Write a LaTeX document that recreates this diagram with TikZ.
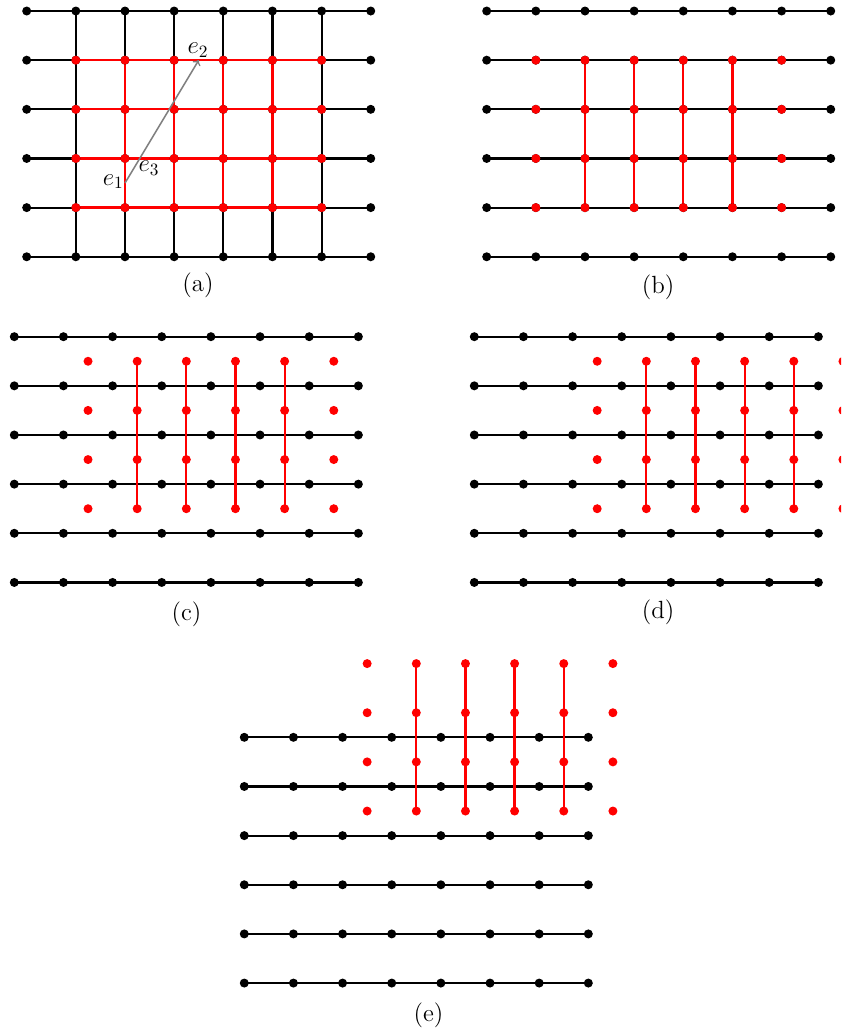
\documentclass[tikz,border=0pt]{standalone}
\pgfdeclarelayer{bg}
\pgfdeclarelayer{mid}
\pgfsetlayers{bg,mid,main}
\tikzset{
  bdot/.style={circle,fill=black,inner sep=0pt,minimum size=0.183cm},
  rdot/.style={circle,fill=red,inner sep=0pt,minimum size=0.183cm},
  bline/.style={line width=1.25pt,black},
  rline/.style={line width=1.3pt,red},
  capt/.style={font=\Large},
  lab/.style={font=\Large,inner sep=0pt},
  vec/.style={line width=0.9pt,gray,->}
}
\newcommand\blackgrid[1]{%
  \foreach \i in {0,...,7}{\foreach \j in {0,...,5}{\node[bdot] (#1-\i-\j) at (\i,-\j) {};}}%
  \begin{pgfonlayer}{bg}%
    \foreach \j in {0,...,5}{\draw[bline] (#1-0-\j.center) -- (#1-7-\j.center);}%
  \end{pgfonlayer}}
\newcommand\redgrid[3]{%
  \foreach \k in {0,...,5}{\foreach \l in {0,...,3}{\node[rdot] (#1-\k-\l) at ({#2+\k},{#3-\l}) {};}}%
  \begin{pgfonlayer}{mid}%
    \foreach \k in {1,...,4}{\draw[rline] (#1-\k-0.center) -- (#1-\k-3.center);}%
  \end{pgfonlayer}}
\begin{document}
\begin{tikzpicture}
\useasboundingbox (0,0) rectangle (17.111,-20.956);
\clip (0,0) rectangle (17.111,-20.956);
% (a)
\begin{scope}[shift={(0.543,-0.224)}]
  \blackgrid{a}
  \begin{pgfonlayer}{bg}
    \foreach \i in {1,...,6}{\draw[bline] (a-\i-0.center) -- (a-\i-5.center);}
  \end{pgfonlayer}
  \redgrid{ar}{1}{-1}
  \begin{pgfonlayer}{mid}
    \foreach \l in {0,...,3}{\draw[rline] (ar-0-\l.center) -- (ar-5-\l.center);}
  \end{pgfonlayer}
  \coordinate (s) at (2,-3.5);
  \coordinate (t) at (3.5,-1);
  \draw[vec] (s) -- (t);
  \node[lab] (e1) at (1.762,-3.473) {$e_1$};
  \node[lab] (e2) at (3.485,-0.794) {$e_2$};
  \node[lab] (e3) at (2.488,-3.194) {$e_3$};
\end{scope}
\node[capt] (capa) at (4.028,-5.799) {(a)};
% (b)
\begin{scope}[shift={(9.902,-0.224)}]
  \blackgrid{b}
  \redgrid{br}{1}{-1}
\end{scope}
\node[capt] (capb) at (13.388,-5.839) {(b)};
% (c)
\begin{scope}[shift={(0.291,-6.850)}]
  \blackgrid{c}
  \redgrid{cr}{1.5}{-0.5}
\end{scope}
\node[capt] (capc) at (3.794,-12.492) {(c)};
% (d)
\begin{scope}[shift={(9.650,-6.850)}]
  \blackgrid{d}
  \redgrid{dr}{2.5}{-0.5}
\end{scope}
\node[capt] (capd) at (13.388,-12.462) {(d)};
% (e)
\begin{scope}[shift={(4.970,-15.001)}]
  \blackgrid{e}
  \redgrid{er}{2.5}{1.5}
\end{scope}
\node[capt] (cape) at (8.718,-20.651) {(e)};
\end{tikzpicture}
\end{document}
